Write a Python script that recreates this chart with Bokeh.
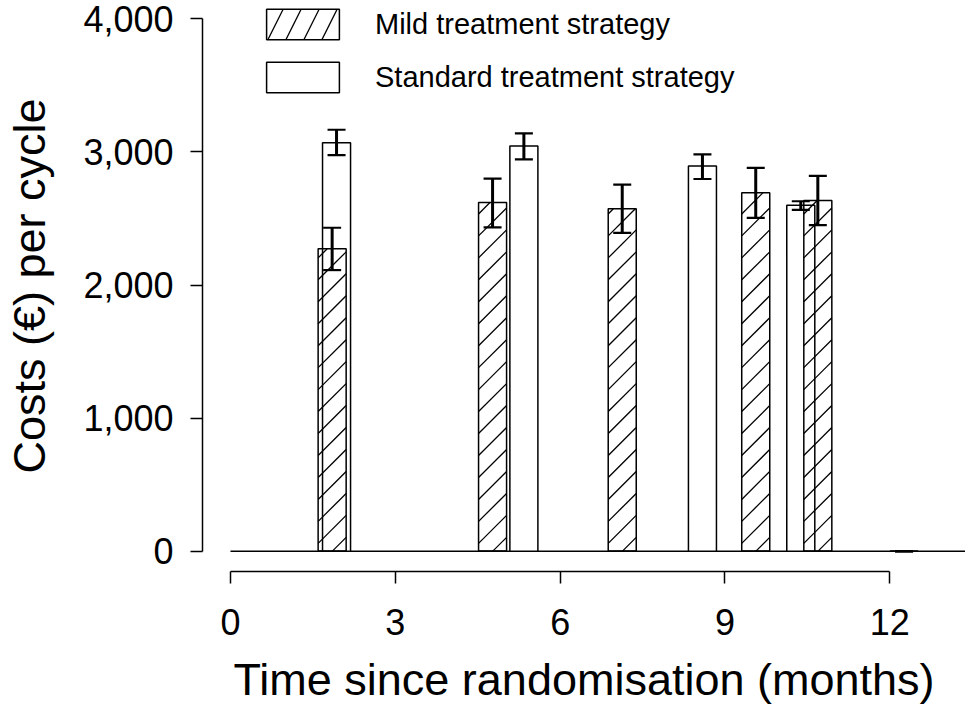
import math
from bokeh.plotting import figure
from bokeh.models import (ColumnDataSource, Whisker, TeeHead, Legend, LegendItem,
                          FixedTicker, NumeralTickFormatter, Range1d)
from bokeh.embed import file_html
from bokeh.resources import INLINE

# ---- data ----
months_mild = [1.85, 4.77, 7.13, 9.56, 10.69, 12.26]
cost_mild = [2272, 2619, 2572, 2692, 2634, 0]
lower_mild = [2112, 2432, 2392, 2504, 2449, 0]
upper_mild = [2430, 2799, 2754, 2879, 2819, 0]

months_std = [1.93, 5.34, 8.59, 10.38]
cost_std = [3069, 3043, 2894, 2599]
lower_std = [2976, 2944, 2796, 2564]
upper_std = [3166, 3139, 2981, 2629]

x_ticks = [0, 3, 6, 9, 12]
y_ticks = [0, 1000, 2000, 3000, 4000]
baseline_months = [0, 13.5]
baseline_cost = [0, 0]

# ---- layout / style ----
bar_width = 0.51
FONT = "Liberation Sans"
W, H = 965, 707
BORDER_L, BORDER_B = 202, 135
X0, X1 = -0.5097, 13.378
Y0, Y1 = -151.4, 4136.4
HATCH_STEP = 22  # px between 45-degree hatch lines

src_mild = ColumnDataSource(dict(x=months_mild, top=cost_mild, lo=lower_mild, hi=upper_mild))
src_std = ColumnDataSource(dict(x=months_std, top=cost_std, lo=lower_std, hi=upper_std))

# 45-degree hatch lines inside each mild bar, derived from the bar data
px_per_month = (W - BORDER_L) / (X1 - X0)
px_per_cost = (H - BORDER_B) / (Y1 - Y0)
hx0, hy0, hx1, hy1 = [], [], [], []
for xm, top in zip(months_mild, cost_mild):
    if top <= 0:
        continue
    left = xm - bar_width / 2
    wpx = bar_width * px_per_month
    hpx = top * px_per_cost
    c = -HATCH_STEP * math.ceil(wpx / HATCH_STEP) + 8
    while c < hpx:
        u0 = max(0.0, -c)
        u1 = min(wpx, hpx - c)
        if u1 > u0:
            hx0.append(left + u0 / px_per_month)
            hy0.append((u0 + c) / px_per_cost)
            hx1.append(left + u1 / px_per_month)
            hy1.append((u1 + c) / px_per_cost)
        c += HATCH_STEP

p = figure(width=W, height=H, output_backend="svg", toolbar_location=None,
           x_range=Range1d(X0, X1), y_range=Range1d(Y0, Y1),
           min_border_left=BORDER_L, min_border_right=0, min_border_top=0,
           min_border_bottom=BORDER_B)
p.grid.visible = False
p.outline_line_color = None
p.background_fill_color = "white"
p.border_fill_color = "white"

# baseline
p.line(x=baseline_months, y=baseline_cost, line_color="black", line_width=1.5)

r_std = p.vbar(x="x", top="top", bottom=0, width=bar_width, source=src_std,
               fill_color="white", line_color="black", line_width=1.5)
p.vbar(x="x", top="top", bottom=0, width=bar_width, source=src_mild,
       fill_alpha=0, line_color="black", line_width=1.5)
p.segment(x0=hx0, y0=hy0, x1=hx1, y1=hy1, line_color="black", line_width=1.3)

# legend key for the hatched series (zero-height bars on the baseline, so only the key shows)
r_mild_key = p.vbar(x="x", top=0, bottom=0, width=bar_width, source=src_mild,
                    fill_alpha=0, line_color="black", line_width=1.5,
                    hatch_pattern="/", hatch_color="black",
                    hatch_scale=36, hatch_weight=1.3)

for src in (src_std, src_mild):
    w = Whisker(base="x", lower="lo", upper="hi", source=src, level="annotation",
                line_color="black", line_width=3,
                upper_head=TeeHead(size=18, line_width=2.2, line_color="black"),
                lower_head=TeeHead(size=18, line_width=2.2, line_color="black"))
    p.add_layout(w)

# axes
for ax in (p.xaxis[0], p.yaxis[0]):
    ax.axis_line_width = 1.5
    ax.major_tick_line_width = 1.5
    ax.major_tick_in = 0
    ax.major_tick_out = 12
    ax.minor_tick_line_color = None
    ax.major_label_text_font = FONT
    ax.major_label_text_font_size = "36px"
    ax.major_label_text_color = "black"
    ax.axis_label_text_font = FONT
    ax.axis_label_text_font_size = "45px"
    ax.axis_label_text_font_style = "normal"
    ax.axis_label_text_color = "black"

p.xaxis.bounds = (0, 12)
p.xaxis.ticker = FixedTicker(ticks=x_ticks)
p.xaxis.major_label_standoff = 25
p.xaxis.axis_label = "Time since randomisation (months)"
p.xaxis.axis_label_standoff = 16

p.yaxis.bounds = (0, 4000)
p.yaxis.ticker = FixedTicker(ticks=y_ticks)
p.yaxis.formatter = NumeralTickFormatter(format="0,0")
p.yaxis.major_label_standoff = 17
p.yaxis.axis_label = "Costs (€) per cycle"
p.yaxis.axis_label_standoff = 25

legend = Legend(items=[LegendItem(label="Mild treatment strategy", renderers=[r_mild_key]),
                       LegendItem(label="Standard treatment strategy", renderers=[r_std])],
                location=(55, 475), glyph_width=91, glyph_height=38, label_standoff=27,
                spacing=15, padding=0, margin=0, border_line_color=None,
                background_fill_alpha=0, label_text_font=FONT, label_text_color="black",
                label_text_font_size="29px", label_height=20)
p.add_layout(legend)

open("out.html", "w").write(file_html(p, INLINE))
